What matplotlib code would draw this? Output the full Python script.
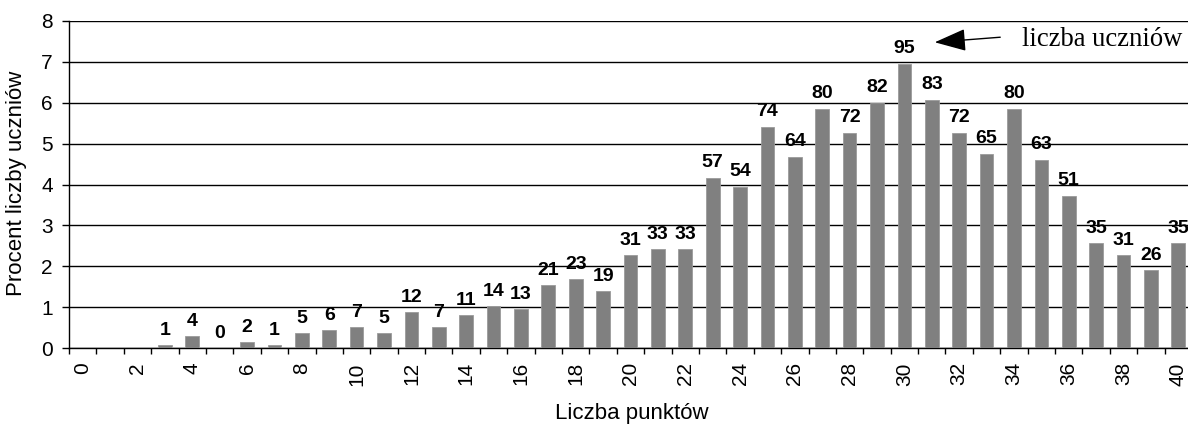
import matplotlib
matplotlib.use("Agg")
import matplotlib.pyplot as plt
import numpy as np

points = list(range(3, 41))
counts = [1, 4, 0, 2, 1, 5, 6, 7, 5, 12, 7, 11, 14, 13, 21, 23, 19, 31, 33, 33,
          57, 54, 74, 64, 80, 72, 82, 95, 83, 72, 65, 80, 63, 51, 35, 31, 26, 35]
all_points = list(range(0, 41))
tick_labels = [str(p) if p % 2 == 0 else "" for p in all_points]

total = sum(counts)
percent = [c / total * 100 for c in counts]

plt.rcParams['font.family'] = ['Liberation Sans', 'DejaVu Sans']

W, H = 1188, 425
fig = plt.figure(figsize=(W / 100, H / 100), dpi=100)
left, right, top, bottom = 69, 1192, 20.7, 348.3
ax = fig.add_axes([left / W, 1 - bottom / H, (right - left) / W, (bottom - top) / H])

ax.bar(points, percent, width=0.5, color='#808080', edgecolor='#9a9a9a', linewidth=0.6, zorder=3)

for x, c, p in zip(points, counts, percent):
    ax.annotate(str(c), (x, p), xytext=(0, 4.5), textcoords='offset points',
                ha='center', va='bottom', fontsize=14, fontweight='bold', zorder=4,
                annotation_clip=False)

ax.set_xlim(-0.5, 40.5)
ax.set_ylim(0, 8)
ax.set_yticks(range(0, 9))
ax.yaxis.grid(True, color='black', linewidth=1.0, zorder=1)
ax.set_axisbelow(True)

ax.set_xticks(all_points)
ax.set_xticklabels(tick_labels, rotation=90, fontsize=15)
ax.tick_params(axis='x', length=0, pad=10)
ax.set_xticks(np.arange(-0.5, 41, 1), minor=True)
ax.tick_params(axis='x', which='minor', length=4, width=1, direction='out', color='black')
ax.tick_params(axis='y', length=5.3, width=1, direction='out', labelsize=15, pad=6.3)

for s in ['top', 'right']:
    ax.spines[s].set_visible(False)
ax.spines['left'].set_linewidth(1)
ax.spines['bottom'].set_linewidth(1)

fig.text(17 / W, 1 - 183 / H, 'Procent liczby uczniów', ha='center', va='center',
         rotation=90, fontsize=16)
fig.text(632 / W, 1 - 413 / H, 'Liczba punktów', ha='center', va='center', fontsize=16)

fig.text(1022 / W, 1 - 39 / H, 'liczba uczniów', ha='left', va='center', fontsize=19.2,
         family='Liberation Serif')
fig.add_artist(matplotlib.patches.FancyArrowPatch(
    (1003 / W, 1 - 37 / H), (932 / W, 1 - 42.5 / H), transform=fig.transFigure,
    arrowstyle='-|>,head_length=1.4,head_width=0.5', mutation_scale=14,
    color='black', linewidth=1))

fig.savefig('out.png', dpi=100)
